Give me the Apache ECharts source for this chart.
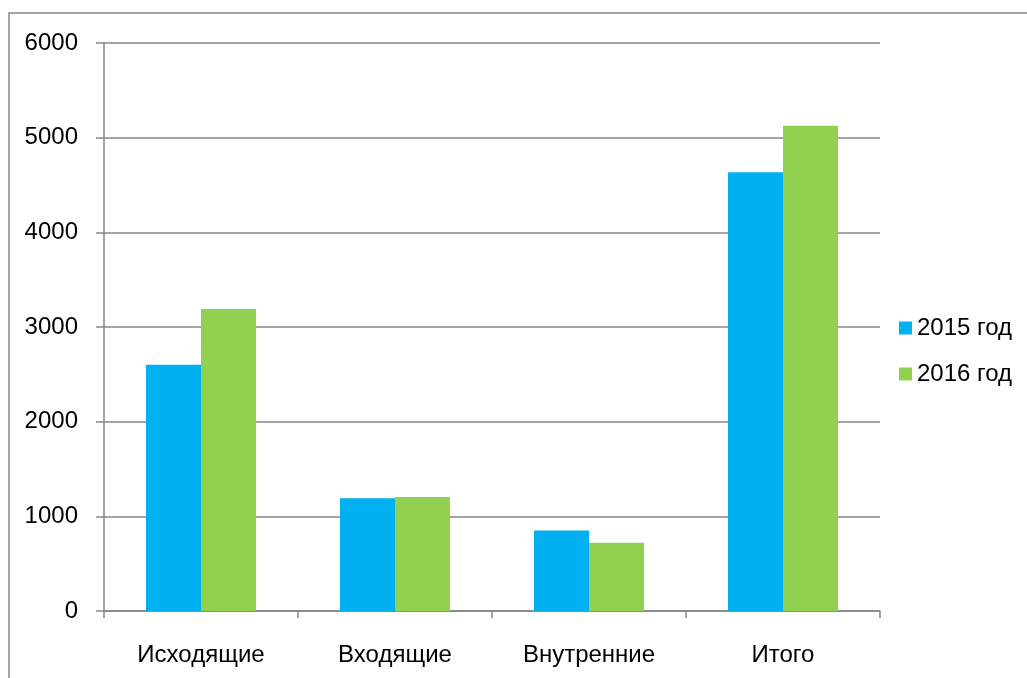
<!DOCTYPE html>
<html>
<head>
<meta charset="utf-8">
<script src="https://cdn.jsdelivr.net/npm/echarts@6/dist/echarts.min.js"></script>
<style>
  html, body { margin: 0; padding: 0; background: #fff; }
  #chart { width: 1027px; height: 678px; }
</style>
</head>
<body>
<div id="chart"></div>
<script>
// data
var categories = ["Исходящие", "Входящие", "Внутренние", "Итого"];
var values2015 = [2600, 1190, 850, 4635];
var values2016 = [3190, 1205, 722, 5125];
var seriesNames = ["2015 год", "2016 год"];

var gray = "#868686";
var font = "Liberation Sans";

var myChart = echarts.init(document.getElementById("chart"));
myChart.setOption({
  animation: false,
  color: ["#00B0F0", "#92D050"],
  textStyle: { fontFamily: font },
  graphic: [{
    type: "rect",
    shape: { x: 9, y: 13, width: 1100, height: 700 },
    style: { fill: "none", stroke: gray, lineWidth: 1.5 },
    silent: true
  }],
  grid: { left: 104, right: 147, top: 43, bottom: 67 },
  legend: {
    orient: "vertical",
    left: 894,
    top: 311,
    itemWidth: 13,
    itemHeight: 13,
    itemGap: 22,
    icon: "rect",
    textStyle: { fontSize: 24, color: "#000", fontFamily: font },
    data: seriesNames
  },
  xAxis: {
    type: "category",
    data: categories,
    axisLine: { lineStyle: { color: gray, width: 1.5 } },
    axisTick: { show: true, length: 7, lineStyle: { color: gray, width: 1.5 } },
    axisLabel: { fontSize: 24, color: "#000", margin: 32 }
  },
  yAxis: {
    type: "value",
    min: 0,
    max: 6000,
    interval: 1000,
    axisLine: { show: true, lineStyle: { color: gray, width: 1.5 } },
    axisTick: { show: true, length: 8, lineStyle: { color: gray, width: 1.5 } },
    axisLabel: {
      fontSize: 24,
      color: "#000",
      margin: 26,
      formatter: function (v) { return String(v); }
    },
    splitLine: { lineStyle: { color: gray, width: 1.5 } }
  },
  series: [
    {
      name: seriesNames[0],
      type: "bar",
      barWidth: 55,
      barGap: "0%",
      data: values2015
    },
    {
      name: seriesNames[1],
      type: "bar",
      barWidth: 55,
      barGap: "0%",
      data: values2016
    }
  ]
});
</script>
</body>
</html>
